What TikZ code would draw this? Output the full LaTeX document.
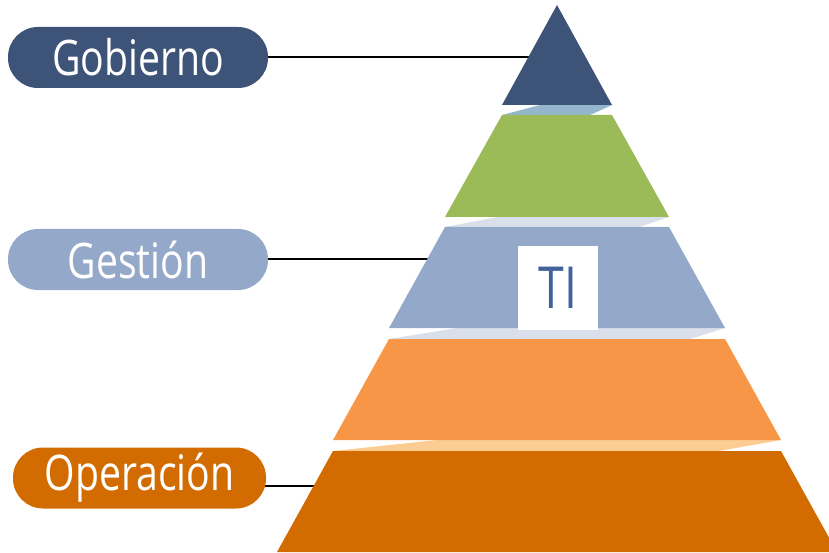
\documentclass[tikz,border=0pt]{standalone}
\usepackage{fontspec}
\setmainfont{Open Sans}[FakeStretch=0.8]
\usetikzlibrary{backgrounds}

\definecolor{gobnavy}{RGB}{62,83,120}
\definecolor{layergreen}{RGB}{155,187,89}
\definecolor{layersteel}{RGB}{148,169,202}
\definecolor{layerorange}{RGB}{247,150,70}
\definecolor{layerrust}{RGB}{211,108,0}
\definecolor{sliverblue}{RGB}{148,183,205}
\definecolor{sliverlilac}{RGB}{217,223,235}
\definecolor{sliverpeach}{RGB}{252,205,147}
\definecolor{titext}{RGB}{65,99,154}

\begin{document}
\begin{tikzpicture}
  [x=1pt,y=-1pt,
   tagpill/.style={rounded corners=30pt,minimum width=260pt,minimum height=61pt,
                   inner sep=0pt,text=white,font=\fontsize{49}{49}\selectfont}]
  \useasboundingbox (0,0) rectangle (829,553);

  % light slivers between the layers
  \foreach \yt/\yb/\w/\a/\b/\col in {105/115/55/38/22/sliverblue,
      217/227/112/53/30/sliverlilac, 328/339/168/68/35/sliverlilac,
      440/451/224/104/62/sliverpeach}
    \fill[\col] ({557-\w+\a},\yt) -- ({557+\w},\yt) -- ({557+\w-\b},\yb) -- ({557-\w},\yb) -- cycle;

  % pyramid layers
  \fill[gobnavy] (557,5) -- (612,105) -- (502,105) -- cycle;
  \foreach \yt/\yb/\wt/\wb/\col in {115/217/55/112/layergreen,
      227/328/112/168/layersteel, 339/440/168/224/layerorange,
      451/552/224/280/layerrust}
    \fill[\col] ({557-\wt},\yt) -- ({557+\wt},\yt) -- ({557+\wb},\yb) -- ({557-\wb},\yb) -- cycle;

  \node[fill=white,minimum width=80pt,minimum height=84pt,inner sep=0pt,
        text=titext,font=\fontsize{58}{58}\selectfont] (ti) at (558,288) {TI};

  \node[tagpill,fill=gobnavy] (gob) at (138,57.5) {Gobierno};
  \node[tagpill,fill=layersteel] (gest) at (138,259.5) {Gestión};
  \node[tagpill,fill=layerrust,minimum width=253pt] (oper) at (139.5,478) {Operación};

  \coordinate (gobend) at (531,57);
  \coordinate (gestend) at (429,259);
  \coordinate (operend) at (316,486);

  \begin{pgfonlayer}{background}
    \foreach \from/\to in {gob/gobend,gest/gestend,oper/operend}
      \draw[line width=1.4pt] (\from.center |- \to) -- (\to);
  \end{pgfonlayer}
\end{tikzpicture}
\end{document}
